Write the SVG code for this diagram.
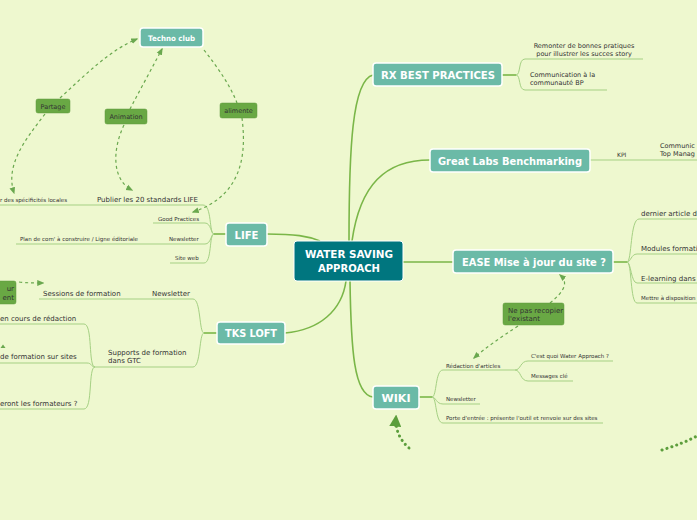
<svg xmlns="http://www.w3.org/2000/svg" width="697" height="520" viewBox="0 0 697 520">
<defs>
<style>
.bg{fill:#eef8cf}
.main{stroke:#7ab648;stroke-width:1.6;fill:none}
.sub{stroke:#a5d083;stroke-width:1;fill:none}
.dash{stroke:#6aa84f;stroke-width:1.2;fill:none;stroke-dasharray:3 3}
.dots{stroke:#5c9e3c;stroke-width:3;fill:none;stroke-dasharray:0.1 5;stroke-linecap:round}
.topic{fill:#6bbaa7;stroke:#ffffff;stroke-width:1.5}
.center{fill:#00767f;stroke:#ffffff;stroke-width:1}
.lbl{fill:#69a844;stroke:#5e9a3c;stroke-width:0.5}
.tt{font-family:"DejaVu Sans",Verdana,sans-serif;font-weight:bold;fill:#ffffff}
.t{font-family:"DejaVu Sans",Verdana,sans-serif;fill:#333333}
</style>
<marker id="ah" viewBox="0 0 10 10" refX="8" refY="5" markerWidth="6" markerHeight="6" orient="auto-start-reverse">
<path d="M0,1 L10,5 L0,9 z" fill="#6aa84f"/>
</marker>
<marker id="ahb" viewBox="0 0 10 10" refX="8" refY="5" markerWidth="4" markerHeight="4" orient="auto">
<path d="M0,0 L10,5 L0,10 z" fill="#5c9e3c"/>
</marker>
</defs>
<rect class="bg" x="0" y="0" width="697" height="520"/>

<g id="connectors">
<path class="main" d="M349,241 C349,150 352,80 373,75"/>
<path class="main" d="M352,241 C360,185 385,160 430,160"/>
<path class="main" d="M403,262 L453,262"/>
<path class="main" d="M350,281 C351,350 354,395 373,397"/>
<path class="main" d="M267,234 C295,234 308,236 320,241"/>
<path class="main" d="M285,333 C320,330 342,310 346,281"/>

<path class="main" d="M502,75 L516,75"/>
<path class="sub" d="M516,75 C521,75 518,59 525,59 L643,59"/>
<path class="sub" d="M516,75 C521,75 518,90 525,90 L607,90"/>

<path class="sub" d="M590,160 L697,160"/>

<path class="main" d="M613,262 L627,262"/>
<path class="sub" d="M627,262 C632,262 630,219 639,219 L697,219"/>
<path class="sub" d="M627,262 C631,262 631,254 637,254 L697,254"/>
<path class="sub" d="M627,262 C631,262 631,283 637,283 L697,283"/>
<path class="sub" d="M627,262 C632,262 630,303 637,303 L697,303"/>

<path class="main" d="M419,397 L432,397"/>
<path class="sub" d="M432,397 C437,397 435,370 443,370 L515,370"/>
<path class="sub" d="M515,370 C521,370 520,361 528,361 L613,361"/>
<path class="sub" d="M515,370 C521,370 520,381 528,381 L573,381"/>
<path class="sub" d="M432,397 C436,397 436,404 443,404 L480,404"/>
<path class="sub" d="M432,397 C437,397 435,423 443,423 L603,423"/>

<path class="main" d="M226,234 L214,234"/>
<path class="sub" d="M214,234 C209,234 212,205 203,205 L0,205"/>
<path class="sub" d="M214,234 C211,234 211,223 205,223 L153,223"/>
<path class="sub" d="M214,234 C211,234 211,244 205,244 L16,244"/>
<path class="sub" d="M214,234 C209,234 212,263 204,263 L170,263"/>

<path class="main" d="M217,333 L204,333"/>
<path class="sub" d="M204,333 C199,333 201,299 193,299 L39,299"/>
<path class="sub" d="M204,333 C199,333 201,367 193,367 L95,367"/>
<path class="sub" d="M95,367 C88,367 93,324 84,324 L0,324"/>
<path class="sub" d="M95,367 C91,367 92,363 87,363 L0,363"/>
<path class="sub" d="M95,367 C88,367 93,409 84,409 L0,409"/>

<path class="dash" d="M60,98 C85,75 110,50 137,39" marker-end="url(#ah)"/>
<path class="dash" d="M45,114 C25,140 5,165 14,193" marker-end="url(#ah)"/>
<path class="dash" d="M130,109 C140,90 152,68 162,49" marker-end="url(#ah)"/>
<path class="dash" d="M124,125 C112,150 112,180 132,190" marker-end="url(#ah)"/>
<path class="dash" d="M204,50 C218,68 230,85 237,103"/>
<path class="dash" d="M242,118 C246,150 245,195 193,212" marker-end="url(#ah)"/>
<path class="dash" d="M550,303 C566,290 568,282 560,275" marker-end="url(#ah)"/>
<path class="dash" d="M518,326 C500,338 485,348 474,358" marker-end="url(#ah)"/>
<path class="dash" d="M19,282 C28,283 35,283 43,283" marker-end="url(#ah)"/>
<path class="dots" d="M409,448 C400,440 395,430 396,417" marker-end="url(#ahb)"/>
<path class="dots" d="M662,450 C675,446 688,441 697,436"/>
<path d="M0.5,348 L3,344.5 L5.5,348 z" fill="#6aa84f"/>
</g>

<g id="center">
<rect class="center" x="294" y="241" width="109" height="40" rx="3"/>
<text class="tt" x="349" y="258" font-size="10.5" text-anchor="middle" textLength="88" lengthAdjust="spacingAndGlyphs">WATER SAVING</text>
<text class="tt" x="349" y="272" font-size="10.5" text-anchor="middle" textLength="62" lengthAdjust="spacingAndGlyphs">APPROACH</text>
</g>

<g id="rx">
<rect class="topic" x="373" y="63" width="129" height="23" rx="3"/>
<text class="tt" x="438" y="79" font-size="11" text-anchor="middle" textLength="114" lengthAdjust="spacingAndGlyphs">RX BEST PRACTICES</text>
<text class="t" x="584" y="48" font-size="6.5" text-anchor="middle">Remonter de bonnes pratiques</text>
<text class="t" x="584" y="56" font-size="6.5" text-anchor="middle">pour illustrer les succes story</text>
<text class="t" x="530" y="77" font-size="6.5">Communication à la</text>
<text class="t" x="530" y="85" font-size="6.5">communauté BP</text>
</g>

<g id="greatlabs">
<rect class="topic" x="430" y="149" width="160" height="23" rx="3"/>
<text class="tt" x="510" y="165" font-size="11" text-anchor="middle" textLength="144" lengthAdjust="spacingAndGlyphs">Great Labs Benchmarking</text>
<text class="t" x="617" y="157" font-size="6">KPI</text>
<text class="t" x="660" y="148" font-size="6.5">Communic</text>
<text class="t" x="660" y="156" font-size="6.5">Top Manag</text>
</g>

<g id="ease">
<rect class="topic" x="453" y="250" width="160" height="23" rx="3"/>
<text class="tt" x="534" y="266" font-size="11" text-anchor="middle" textLength="144" lengthAdjust="spacingAndGlyphs">EASE Mise à jour du site ?</text>
<text class="t" x="641" y="216" font-size="7">dernier article d</text>
<text class="t" x="641" y="251" font-size="7">Modules formati</text>
<text class="t" x="641" y="281" font-size="7">E-learning dans</text>
<text class="t" x="641" y="300" font-size="5.5">Mettre à disposition</text>
</g>

<g id="nepas">
<rect class="lbl" x="503" y="303" width="61" height="22" rx="2"/>
<text class="t" x="508" y="313" font-size="7">Ne pas recopier</text>
<text class="t" x="508" y="321" font-size="7"> l'existant</text>
</g>

<g id="wiki">
<rect class="topic" x="373" y="386" width="46" height="23" rx="3"/>
<text class="tt" x="396" y="402" font-size="11" text-anchor="middle" textLength="29" lengthAdjust="spacingAndGlyphs">WIKI</text>
<text class="t" x="446" y="368" font-size="5.5">Rédaction d'articles</text>
<text class="t" x="531" y="358" font-size="5.5">C'est quoi Water Approach ?</text>
<text class="t" x="531" y="378" font-size="5.5">Messages clé</text>
<text class="t" x="446" y="401" font-size="5.5">Newsletter</text>
<text class="t" x="446" y="420" font-size="5.5">Porte d'entrée : présente l'outil et renvoie sur des sites</text>
</g>

<g id="life">
<rect class="topic" x="226" y="223" width="41" height="23" rx="3"/>
<text class="tt" x="246.5" y="239" font-size="11" text-anchor="middle" textLength="24" lengthAdjust="spacingAndGlyphs">LIFE</text>
<text class="t" x="97" y="202" font-size="7" textLength="101" lengthAdjust="spacingAndGlyphs">Publier les 20 standards LIFE</text>
<text class="t" x="0" y="202" font-size="5.5">r des spécificités locales</text>
<text class="t" x="158" y="221" font-size="5.5">Good Practices</text>
<text class="t" x="20" y="241" font-size="5.5">Plan de com' à construire / Ligne éditoriale</text>
<text class="t" x="169" y="241" font-size="5.5">Newsletter</text>
<text class="t" x="175" y="260" font-size="5.5">Site web</text>
</g>

<g id="tks">
<rect class="topic" x="217" y="322" width="68" height="22" rx="3"/>
<text class="tt" x="251" y="337" font-size="11" text-anchor="middle" textLength="52" lengthAdjust="spacingAndGlyphs">TKS LOFT</text>
<text class="t" x="43" y="296" font-size="7">Sessions de formation</text>
<text class="t" x="152" y="296" font-size="7">Newsletter</text>
<text class="t" x="108" y="355" font-size="7">Supports de formation</text>
<text class="t" x="108" y="363" font-size="7">dans GTC</text>
<text class="t" x="0" y="321" font-size="7">en cours de rédaction</text>
<text class="t" x="0" y="359" font-size="7">de formation sur sites</text>
<text class="t" x="0" y="406" font-size="7">eront les formateurs ?</text>
</g>

<g id="leftlabel">
<rect class="lbl" x="-4" y="281" width="20" height="23" rx="2"/>
<text class="t" x="14" y="291" font-size="7" text-anchor="end">ur</text>
<text class="t" x="14" y="300" font-size="7" text-anchor="end">ent</text>
</g>

<g id="techno">
<rect class="topic" x="140" y="28" width="63" height="19" rx="3"/>
<text class="tt" x="171.5" y="40.5" font-size="7.5" text-anchor="middle" textLength="47" lengthAdjust="spacingAndGlyphs">Techno club</text>
</g>
<g id="partage">
<rect class="lbl" x="36" y="99" width="34" height="14" rx="2"/>
<text class="t" x="53" y="108.5" font-size="6.5" text-anchor="middle">Partage</text>
</g>
<g id="animation">
<rect class="lbl" x="105" y="109" width="42" height="15" rx="2"/>
<text class="t" x="126" y="119" font-size="6.5" text-anchor="middle">Animation</text>
</g>
<g id="alimente">
<rect class="lbl" x="220" y="103" width="37" height="15" rx="2"/>
<text class="t" x="238.5" y="113" font-size="6.5" text-anchor="middle">alimente</text>
</g>
</svg>
